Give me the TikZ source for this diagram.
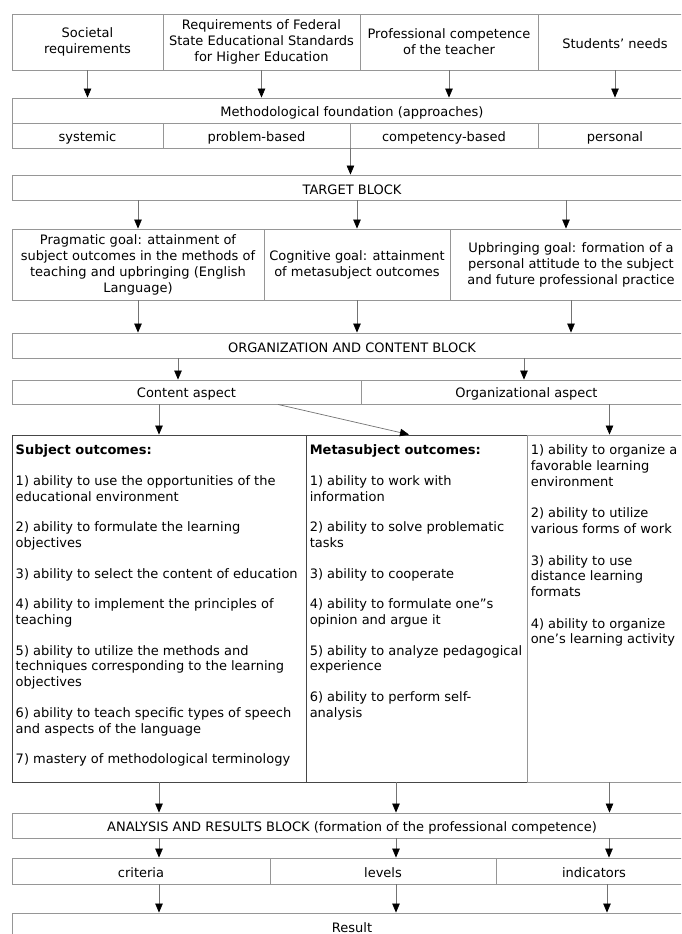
\documentclass[tikz,border=0pt]{standalone}
\usepackage{fontspec}
\setmainfont{DejaVu Sans}
\usepackage{tikz}
\usetikzlibrary{calc}
\usetikzlibrary{arrows.meta}
\definecolor{framegray}{RGB}{150, 150, 150}
\definecolor{listdark}{RGB}{70, 70, 70}
\definecolor{shaftgray}{RGB}{115, 115, 115}
\newcommand{\boxfont}{\fontsize{13}{16}\selectfont}
\newcommand{\listfont}{\fontsize{13}{15.7}\selectfont}
\tikzset{
    box/.style={draw=framegray, line width=0.9pt, inner sep=0pt, align=center, font=\boxfont,
                execute at begin node={\rule{0pt}{14pt}}},
    listbox/.style={draw=listdark, line width=0.9pt, inner sep=0pt},
    listtext/.style={inner sep=0pt, align=left, anchor=north west, font=\listfont},
    arr/.style={draw=shaftgray, line width=0.7pt, -{Triangle[length=9pt, width=7.5pt, color=black, fill=black]}}
}

\begin{document}
\begin{tikzpicture}[x=1pt, y=-1pt]
            % Frame to ensure alignment:
            \useasboundingbox                                    (0, 0) rectangle (681, 934);
            \fill[white]                                         (0, 0) rectangle (681, 934);
            \clip                                                (0, 0) rectangle (681, 934);

            % sources
            \node[box, minimum width=151, minimum height=56] (soc)  at ( 87.5,  42.0) {Societal\\requirements};
            \node[box, minimum width=197, minimum height=56] (fed)  at (261.5,  42.0) {Requirements of Federal\\State Educational Standards\\for Higher Education};
            \node[box, minimum width=178, minimum height=56] (prof) at (449.0,  42.0) {Professional competence\\of the teacher};
            \node[box, minimum width=154, minimum height=56] (need) at (615.0,  42.0) {Students’ needs};

            % approaches
            \node[box, minimum width=680, minimum height=25] (meth) at (352.0, 110.5) {Methodological foundation (approaches)};
            \node[box, minimum width=151, minimum height=25] (sys)  at ( 87.5, 135.5) {systemic};
            \node[box, minimum width=187, minimum height=25] (prob) at (256.5, 135.5) {problem-based};
            \node[box, minimum width=188, minimum height=25] (comp) at (444.0, 135.5) {competency-based};
            \node[box, minimum width=154, minimum height=25] (pers) at (615.0, 135.5) {personal};

            % goals
            \node[box, minimum width=680, minimum height=25] (targ) at (352.0, 187.5) {TARGET BLOCK};
            \node[box, minimum width=252, minimum height=71] (prag) at (138.0, 264.5) {Pragmatic goal: attainment of\\subject outcomes in the methods of\\teaching and upbringing (English\\Language)};
            \node[box, minimum width=186, minimum height=71] (cogn) at (357.0, 264.5) {Cognitive goal: attainment\\of metasubject outcomes};
            \node[box, minimum width=242, minimum height=71] (upbr) at (571.0, 264.5) {Upbringing goal: formation of a\\personal attitude to the subject\\and future professional practice};

            % content
            \node[box, minimum width=680, minimum height=25] (org)  at (352.0, 345.5) {ORGANIZATION AND CONTENT BLOCK};
            \node[box, minimum width=349, minimum height=24] (cont) at (186.5, 392.0) {Content aspect};
            \node[box, minimum width=331, minimum height=24] (orga) at (526.5, 392.0) {Organizational aspect};

            \node[listbox, minimum width=294, minimum height=347] (subj) at (159.0, 608.5) {};
            \node[listbox, minimum width=221, minimum height=347] (meta) at (416.5, 608.5) {};
            \node[listbox, draw=framegray, minimum width=165, minimum height=347] (orgl) at (609.5, 608.5) {};
            \node[listtext] (subjtxt) at ([xshift=4, yshift=-10]subj.north west) {\textbf{Subject outcomes:}\\[15pt]
                1) ability to use the opportunities of the\\educational environment\\[15pt]
                2) ability to formulate the learning\\objectives\\[15pt]
                3) ability to select the content of education\\[15pt]
                4) ability to implement the principles of\\teaching\\[15pt]
                5) ability to utilize the methods and\\techniques corresponding to the learning\\objectives\\[15pt]
                6) ability to teach specific types of speech\\and aspects of the language\\[15pt]
                7) mastery of methodological terminology};
            \node[listtext] (metatxt) at ([xshift=4, yshift=-10]meta.north west) {\textbf{Metasubject outcomes:}\\[15pt]
                1) ability to work with\\information\\[15pt]
                2) ability to solve problematic\\tasks\\[15pt]
                3) ability to cooperate\\[15pt]
                4) ability to formulate one"s\\opinion and argue it\\[15pt]
                5) ability to analyze pedagogical\\experience\\[15pt]
                6) ability to perform self-\\analysis};
            \node[listtext] (orgltxt) at ([xshift=4, yshift=-10]orgl.north west) {1) ability to organize a\\favorable learning\\environment\\[16pt]
                2) ability to utilize\\various forms of work\\[16pt]
                3) ability to use\\distance learning\\formats\\[16pt]
                4) ability to organize\\one’s learning activity};

            % results
            \node[box, minimum width=680, minimum height=25] (ana)  at (352.0, 825.5) {ANALYSIS AND RESULTS BLOCK (formation of the professional competence)};
            \node[box, minimum width=258, minimum height=26] (crit) at (141.0, 871.0) {criteria};
            \node[box, minimum width=226, minimum height=26] (levl) at (383.0, 871.0) {levels};
            \node[box, minimum width=196, minimum height=26] (indi) at (594.0, 871.0) {indicators};
            \node[box, minimum width=680, minimum height=25] (res)  at (352.0, 925.5) {Result};

            % arrows
            \foreach \src in {soc, fed, prof, need}
                \draw[arr] (\src.south) -- (\src.south |- meth.north);
            \draw[arr] (prob.south east) -- (prob.south east |- targ.north);
            \foreach \dst in {prag, cogn}
                \draw[arr] (\dst.north |- targ.south) -- (\dst.north);
            \draw[arr] ([xshift=-5]upbr.north |- targ.south) -- ([xshift=-5]upbr.north);
            \foreach \src in {prag, cogn, upbr}
                \draw[arr] (\src.south) -- (\src.south |- org.north);
            \draw[arr] ([xshift=-8.5]cont.north |- org.south) -- ([xshift=-8.5]cont.north);
            \draw[arr] ([xshift=-2.5]orga.north |- org.south) -- ([xshift=-2.5]orga.north);
            \draw[arr] (subj.north |- cont.south) -- (subj.north);
            \draw[arr] ([xshift=91.5]cont.south) -- ([xshift=-7.5]meta.north);
            \draw[arr] (orgl.north |- orga.south) -- (orgl.north);
            \draw[arr] (subj.south) -- (subj.south |- ana.north);
            \draw[arr] ([xshift=-20.5]meta.south) -- ([xshift=-20.5]meta.south |- ana.north);
            \draw[arr] (orgl.south) -- (orgl.south |- ana.north);
            \draw[arr] ([xshift=18]crit.north |- ana.south) -- ([xshift=18]crit.north);
            \draw[arr] ([xshift=13]levl.north |- ana.south) -- ([xshift=13]levl.north);
            \draw[arr] ([xshift=15]indi.north |- ana.south) -- ([xshift=15]indi.north);
            \draw[arr] ([xshift=18]crit.south) -- ([xshift=18]crit.south |- res.north);
            \draw[arr] ([xshift=13]levl.south) -- ([xshift=13]levl.south |- res.north);
            \draw[arr] ([xshift=13]indi.south) -- ([xshift=13]indi.south |- res.north);
        \end{tikzpicture}
\end{document}
